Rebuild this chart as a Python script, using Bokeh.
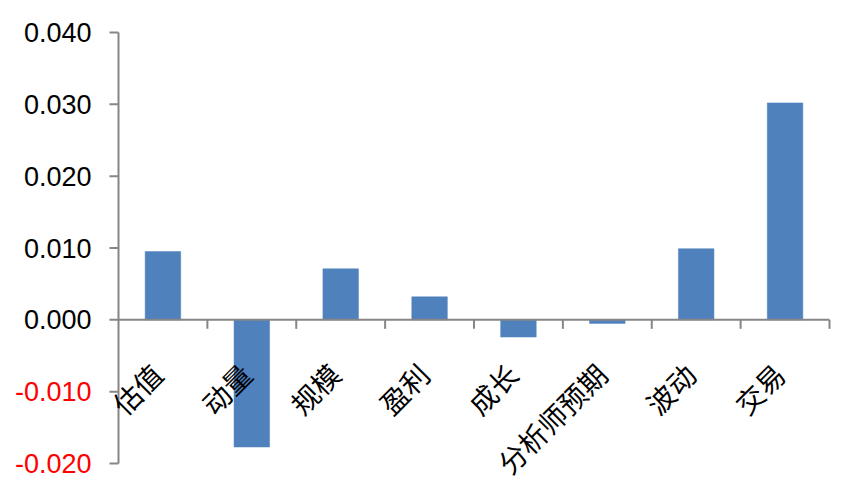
import math
from bokeh.plotting import figure
from bokeh.models import ColumnDataSource, LabelSet, Range1d
from bokeh.core.properties import value
from bokeh.embed import file_html
from bokeh.resources import INLINE

categories = ["估值", "动量", "规模", "盈利", "成长", "分析师预期", "波动", "交易"]
values = [0.0095, -0.0177, 0.0071, 0.0032, -0.0024, -0.0005, 0.0099, 0.0302]
y_ticks = [-0.02, -0.01, 0.0, 0.01, 0.02, 0.03, 0.04]
y_tick_labels = ["-0.020", "-0.010", "0.000", "0.010", "0.020", "0.030", "0.040"]

AXIS_COLOR = "#868686"
BAR_COLOR = "#4F81BD"

# layout (pixels)
W, H = 846, 489
AXIS_X_PX = 118          # where the value axis sits
RIGHT_PAD = 17
TOP_PAD = 32
BOTTOM_PAD = 26
TICK_LEN = 9

n = len(categories)
centers = [i + 0.5 for i in range(n)]

# the frame covers the whole canvas so that no text is clipped
ppu_x = (W - RIGHT_PAD - AXIS_X_PX) / n
x_start = -AXIS_X_PX / ppu_x
x_end = n + RIGHT_PAD / ppu_x
y_lo, y_hi = y_ticks[0], y_ticks[-1]
ppu_y = (H - TOP_PAD - BOTTOM_PAD) / (y_hi - y_lo)
y_start = y_lo - BOTTOM_PAD / ppu_y
y_end = y_hi + TOP_PAD / ppu_y
tick_x = TICK_LEN / ppu_x
tick_y = TICK_LEN / ppu_y

p = figure(width=W, height=H, output_backend="svg", toolbar_location=None,
           x_range=Range1d(x_start, x_end), y_range=Range1d(y_start, y_end),
           x_axis_location=None, y_axis_location=None,
           min_border=0, min_border_left=0, min_border_top=0, min_border_right=0,
           min_border_bottom=0)
p.outline_line_color = None
p.xgrid.visible = False
p.ygrid.visible = False
p.background_fill_color = "white"
p.border_fill_color = "white"

src = ColumnDataSource(dict(x=centers, top=values, cat=categories))
p.vbar(x="x", top="top", bottom=0, width=0.4, source=src,
       fill_color=BAR_COLOR, line_color=BAR_COLOR, line_width=0.5)

# value axis line and ticks
p.segment(x0=[0], y0=[y_lo], x1=[0], y1=[y_hi], line_color=AXIS_COLOR, line_width=2)
p.segment(x0=[-tick_x] * len(y_ticks), y0=y_ticks, x1=[0] * len(y_ticks), y1=y_ticks,
          line_color=AXIS_COLOR, line_width=2)

# category axis line at zero and ticks at category boundaries
bounds = list(range(1, n + 1))
p.segment(x0=[0], y0=[0], x1=[n], y1=[0], line_color=AXIS_COLOR, line_width=2)
p.segment(x0=bounds, y0=[0] * n, x1=bounds, y1=[-tick_y] * n,
          line_color=AXIS_COLOR, line_width=2)

# value axis labels (negatives in red)
colors = ["#FF0000" if v < 0 else "black" for v in y_ticks]
ylab_src = ColumnDataSource(dict(x=[0] * len(y_ticks), y=y_ticks, t=y_tick_labels, c=colors))
p.add_layout(LabelSet(x="x", y="y", text="t", source=ylab_src, x_offset=-27,
                      text_align="right", text_baseline="middle", text_color="c",
                      text_font=value("Liberation Sans"), text_font_size=value("27px")))

# category labels, rotated
cat_src = ColumnDataSource(dict(x=centers, y=[0] * n, t=categories))
p.add_layout(LabelSet(x="x", y="y", text="t", source=cat_src, x_offset=-6, y_offset=-49,
                      angle=math.pi / 4, text_align="right", text_baseline="middle",
                      text_font=value("Noto Sans CJK SC"), text_font_size=value("28px"),
                      text_color="black"))

open("out.html", "w").write(file_html(p, INLINE))
